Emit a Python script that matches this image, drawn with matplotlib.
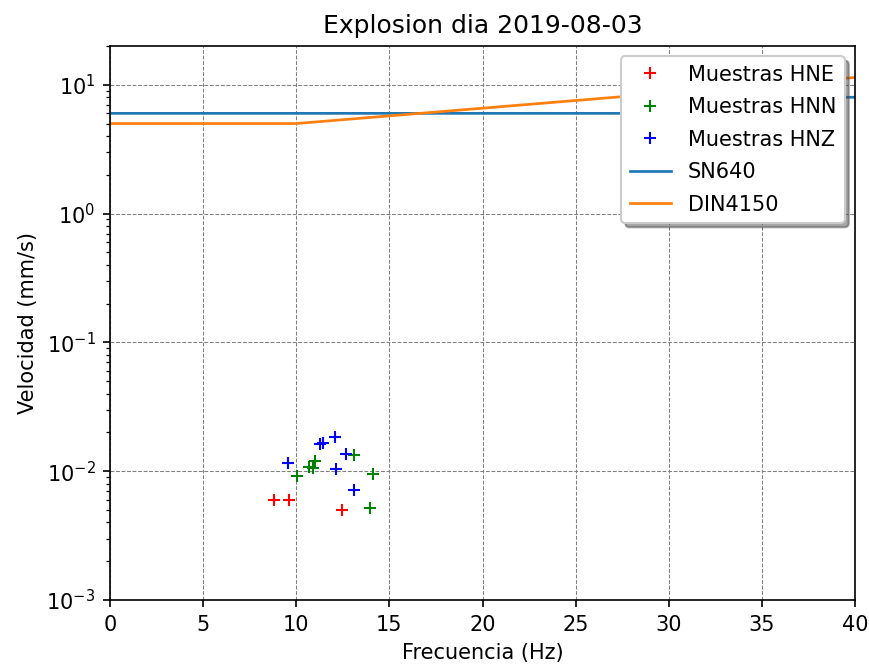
import matplotlib
matplotlib.use("Agg")
import matplotlib.pyplot as plt

# muestras (frecuencia Hz, velocidad mm/s)
hne_f = [8.8, 9.6, 12.45]
hne_v = [0.0060, 0.0060, 0.0050]

hnn_f = [10.06, 10.7, 10.88, 11.02, 13.1, 14.14, 13.96]
hnn_v = [0.0092, 0.0107, 0.0106, 0.0119, 0.0134, 0.0095, 0.0052]

hnz_f = [9.54, 11.27, 11.42, 12.06, 12.65, 12.12, 13.1]
hnz_v = [0.0115, 0.0164, 0.0166, 0.0184, 0.0137, 0.0104, 0.0072]

# normas
sn640_f = [0, 30, 35, 60]
sn640_v = [6, 6, 8, 8]
din4150_f = [0, 10, 50, 100]
din4150_v = [5, 5, 15, 20]

DPI = 150
fig = plt.figure(figsize=(869 / DPI, 665 / DPI), dpi=DPI)
ax = fig.add_axes([110 / 869, 65 / 665, 745 / 869, 554 / 665])

ax.plot(hne_f, hne_v, '+', color='red', label='Muestras HNE')
ax.plot(hnn_f, hnn_v, '+', color='green', label='Muestras HNN')
ax.plot(hnz_f, hnz_v, '+', color='blue', label='Muestras HNZ')
ax.plot(sn640_f, sn640_v, color='#1f77b4', label='SN640', lw=1.3)
ax.plot(din4150_f, din4150_v, color='#ff7f0e', label='DIN4150', lw=1.3)

ax.set_yscale('log')
ax.set_xlim(0, 40)
ax.set_ylim(1e-3, 20)
ax.grid(True, which='major', color='gray', linestyle='--', linewidth=0.5)

ax.set_title('Explosion dia 2019-08-03')
ax.set_xlabel('Frecuencia (Hz)')
ax.set_ylabel('Velocidad (mm/s)')
ax.legend(loc='upper right', shadow=True, numpoints=1, labelspacing=0.6)

fig.savefig('out.png', dpi=DPI)
